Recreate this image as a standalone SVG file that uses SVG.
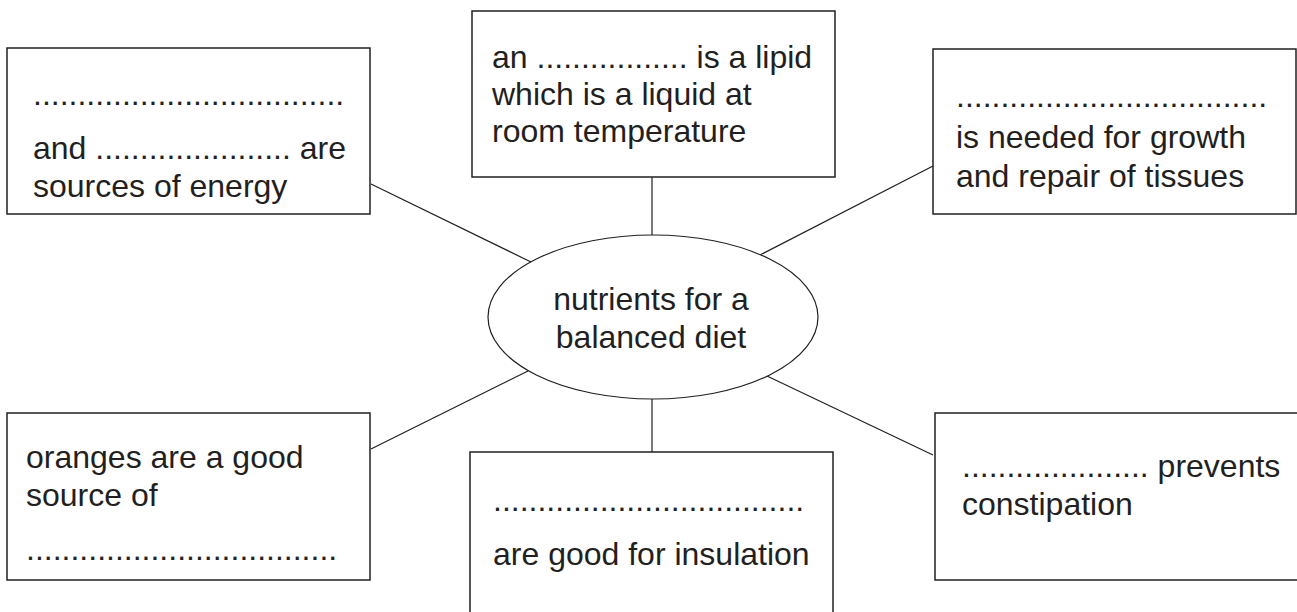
<svg xmlns="http://www.w3.org/2000/svg" width="1297" height="612" viewBox="0 0 1297 612">
<style>
.box{fill:#fff;stroke:#231f20;stroke-width:1.5}
.conn line{stroke:#231f20;stroke-width:1.2}
text{font-family:"Liberation Sans",Arial,sans-serif;font-size:32px;fill:#231f20}
</style>
<rect width="1297" height="612" fill="#fff"/>
<g id="connectors" class="conn">
<line x1="371" y1="184" x2="531" y2="262"/>
<line x1="652" y1="177" x2="652" y2="235"/>
<line x1="933" y1="166" x2="760" y2="255"/>
<line x1="371" y1="449" x2="528" y2="371"/>
<line x1="652" y1="399" x2="652" y2="452"/>
<line x1="767" y1="376" x2="933" y2="455"/>
</g>
<g id="center">
<ellipse cx="653" cy="317" rx="165" ry="82" fill="#fff" stroke="#231f20" stroke-width="1.2"/>
<text x="651" y="310" text-anchor="middle">nutrients for a</text>
<text x="651" y="348" text-anchor="middle">balanced diet</text>
</g>
<g id="box-energy">
<rect class="box" x="7" y="48" width="363" height="166"/>
<text x="33" y="105">...................................</text>
<text x="33" y="159">and ...................... are</text>
<text x="33" y="197">sources of energy</text>
</g>
<g id="box-lipid">
<rect class="box" x="472" y="11" width="363" height="166"/>
<text x="492" y="68">an ................. is a lipid</text>
<text x="492" y="105">which is a liquid at</text>
<text x="492" y="142">room temperature</text>
</g>
<g id="box-growth">
<rect class="box" x="933" y="49" width="363" height="165"/>
<text x="956" y="107">...................................</text>
<text x="956" y="148">is needed for growth</text>
<text x="956" y="187">and repair of tissues</text>
</g>
<g id="box-oranges">
<rect class="box" x="7" y="413" width="363" height="167"/>
<text x="26" y="468">oranges are a good</text>
<text x="26" y="506">source of</text>
<text x="26" y="560">...................................</text>
</g>
<g id="box-insulation">
<rect class="box" x="470" y="452" width="363" height="180"/>
<text x="493" y="511">...................................</text>
<text x="493" y="565">are good for insulation</text>
</g>
<g id="box-constipation">
<rect class="box" x="935" y="413" width="380" height="167"/>
<text x="962" y="477">..................... prevents</text>
<text x="962" y="515">constipation</text>
</g>
</svg>
